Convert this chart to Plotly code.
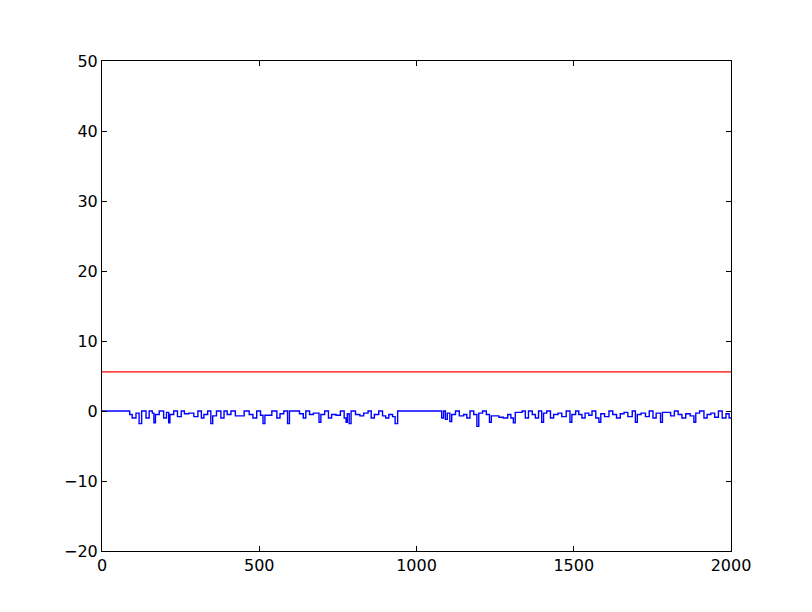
import plotly.graph_objects as go

# Step signal: value holds from each change point until the next one
change_x = [0, 88, 96, 108, 118, 126, 140, 150, 160, 165, 170, 182, 196, 205, 212, 216, 228, 240, 252, 262,
            276, 292, 305, 316, 324, 336, 346, 352, 364, 378, 388, 398, 410, 424, 440, 452, 468, 480, 492, 504,
            512, 518, 530, 540, 556, 566, 578, 590, 596, 628, 640, 648, 660, 672, 690, 696, 708, 720, 730, 744,
            758, 770, 776, 780, 786, 792, 806, 820, 832, 846, 856, 866, 880, 892, 902, 912, 924, 932, 940, 1080,
            1086, 1092, 1098, 1106, 1112, 1124, 1136, 1150, 1160, 1170, 1182, 1192, 1198, 1210, 1222, 1232, 1238, 1250, 1262, 1276,
            1290, 1300, 1308, 1314, 1336, 1346, 1356, 1368, 1378, 1388, 1398, 1404, 1414, 1426, 1436, 1450, 1462, 1476, 1488, 1494,
            1506, 1516, 1526, 1536, 1548, 1558, 1570, 1580, 1586, 1598, 1612, 1624, 1636, 1648, 1660, 1672, 1686, 1696, 1702, 1714,
            1728, 1740, 1752, 1762, 1776, 1782, 1808, 1820, 1832, 1844, 1856, 1870, 1882, 1888, 1900, 1914, 1924, 1936, 1948, 1960,
            1972, 1984, 1994, 2000]
change_y = [0, -0.5, -1, -0.3, -1.8, 0, -1, 0, -0.3, -1.7, -0.5, 0, -1, -0.2, -1.7, -0.5, 0, -0.8, 0, -0.4,
            -0.3, -0.8, 0, -1, -0.5, 0, -1.8, -0.7, 0, -1, 0, -0.5, 0, -0.7, -0.7, 0, -0.5, -1, 0, -0.6,
            -1.8, -0.6, -0.6, 0, -1, -0.4, 0, -1.8, 0, -0.4, -1, 0, -0.5, -0.3, -1.6, -0.5, 0, -1, -0.5, -0.6,
            0, -1, -1.6, -0.4, -1.8, 0, -0.5, -0.7, -0.3, 0, -1, -0.5, 0, -0.7, -1, -0.5, -0.8, -1.8, 0, -1,
            0, -1.2, -0.3, -1.5, -0.5, 0, -0.7, -0.5, -1, 0, -0.5, -2.2, -0.3, 0, -0.5, -1.6, -0.7, -0.7, -0.9, -1,
            -0.5, -1, -1.7, -0.2, 0, -1, 0, -0.5, -1, 0, -1.6, -0.3, 0, -1, -0.5, -0.3, -0.8, 0, -1.6, -0.5,
            0, -0.5, -1, -0.3, -0.6, 0, -1, -1.6, -0.4, -0.8, 0, -0.5, -1, -0.4, -0.2, -0.8, 0, -1.6, -0.5, -0.3,
            -0.8, 0, -1, -0.3, -1.6, -0.2, -0.7, 0, -0.5, -1, -0.4, -0.7, -1.6, -0.3, 0, -1, -0.5, -0.3, -0.9, 0,
            -1, -0.4, -1, -1]

threshold = 5.6
x_range = [0, 2000]
x_ticks = [0, 500, 1000, 1500, 2000]
y_ticks = [-20, -10, 0, 10, 20, 30, 40, 50]
y_tick_labels = ["\u221220", "\u221210", "0", "10", "20", "30", "40", "50"]

fig = go.Figure()
fig.add_trace(go.Scatter(x=change_x, y=change_y, mode="lines", line=dict(color="#0000ff", width=1.4, shape="hv"),
                         showlegend=False, hoverinfo="skip"))
fig.add_trace(go.Scatter(x=x_range, y=[threshold, threshold], mode="lines", line=dict(color="#ff0000", width=1.2),
                         showlegend=False, hoverinfo="skip"))

axis_common = dict(showgrid=False, zeroline=False, showline=True, linecolor="black", linewidth=1,
                   mirror="ticks", ticks="inside", ticklen=5, tickwidth=1, tickcolor="black",
                   tickfont=dict(family="DejaVu Sans", size=16, color="black"))
fig.update_xaxes(range=x_range, tickvals=x_ticks, ticktext=[str(v) for v in x_ticks], **axis_common)
fig.update_yaxes(range=[-20, 50], tickvals=y_ticks, ticktext=y_tick_labels, **axis_common)

fig.update_layout(width=812, height=612, margin=dict(l=94, r=89, t=53, b=69),
                  paper_bgcolor="white", plot_bgcolor="white")
fig.write_html("out.html")
